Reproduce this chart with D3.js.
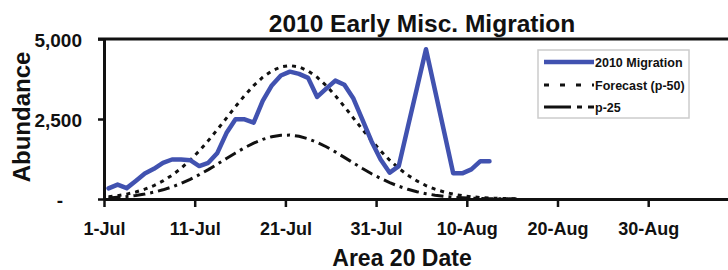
<!DOCTYPE html>
<html>
<head>
<meta charset="utf-8">
<script src="https://cdn.jsdelivr.net/npm/d3@7"></script>
<style>
  body { margin: 0; background: #fff; }
  text { font-family: "Liberation Sans", Arial, sans-serif; font-weight: bold; fill: #111; }
</style>
</head>
<body>
<div id="chart"></div>
<script>
// Day index 0 = 1-Jul
const tickDays = [0, 10, 20, 30, 40, 50, 60];
const tickLabels = ["1-Jul", "11-Jul", "21-Jul", "31-Jul", "10-Aug", "20-Aug", "30-Aug"];
const yTicks = [0, 2500, 5000];

// 2010 Migration, daily from 1-Jul
const migration2010 = [330, 450, 340, 565, 800, 945, 1130, 1234, 1234, 1213, 1030, 1130, 1440, 2060, 2490,
  2490, 2386, 3065, 3550, 3860, 3980, 3910, 3785, 3190, 3450, 3700, 3570, 3140, 2470, 1800, 1235, 823, 1028,
  2250, 3460, 4680, 3390, 2100, 802, 802, 925, 1182, 1182];

// Forecast (p-50), daily from 1-Jul
const forecastP50 = [70, 105, 153, 218, 306, 420, 564, 743, 959, 1213, 1503, 1825, 2171, 2529, 2889, 3231,
  3542, 3804, 4003, 4128, 4170, 4128, 4003, 3804, 3542, 3231, 2889, 2529, 2171, 1825, 1503, 1213, 959, 743,
  564, 420, 306, 218, 153, 105, 70, 46, 30, 19, 12, 7];

// p-25, daily from 1-Jul
const forecastP25 = [35, 53, 77, 111, 155, 213, 287, 377, 486, 614, 760, 919, 1090, 1265, 1439, 1602, 1745,
  1863, 1947, 1992, 1997, 1959, 1883, 1771, 1632, 1472, 1301, 1125, 953, 790, 642, 511, 398, 303, 227, 166,
  119, 83, 57, 38, 25, 16, 10, 6, 4, 2];

const W = 728, H = 270;
const margin = { top: 39, right: 0, bottom: 71, left: 104 };
const plotW = W - margin.left - margin.right,
      plotH = H - margin.top - margin.bottom;

const svg = d3.select("#chart").append("svg")
    .attr("width", W)
    .attr("height", H);

const g = svg.append("g")
    .attr("transform", "translate(" + margin.left + "," + margin.top + ")");

// one day is about 9.07px; points sit in the middle of their day
const x = d3.scaleLinear().domain([0, plotW / 9.07]).range([0, plotW]);
const y = d3.scaleLinear().domain([0, 5000]).range([plotH, 0]);

const line = d3.line()
    .x((d, i) => x(i + 0.5))
    .y(d => y(d));

// top border
g.append("line")
    .attr("x1", -6).attr("x2", plotW)
    .attr("y1", y(5000)).attr("y2", y(5000))
    .attr("stroke", "#111").attr("stroke-width", 3);

// series
g.append("path").datum(forecastP25)
    .attr("d", line)
    .attr("fill", "none")
    .attr("stroke", "#111")
    .attr("stroke-width", 3)
    .attr("stroke-dasharray", "12,5,3,5");

g.append("path").datum(forecastP50)
    .attr("d", line)
    .attr("fill", "none")
    .attr("stroke", "#111")
    .attr("stroke-width", 3)
    .attr("stroke-dasharray", "4,5");

g.append("path").datum(migration2010)
    .attr("d", line)
    .attr("fill", "none")
    .attr("stroke", "#4152b0")
    .attr("stroke-width", 4.5)
    .attr("stroke-linejoin", "round")
    .attr("stroke-linecap", "round");

// x axis
const xAxis = g.append("g")
    .attr("transform", "translate(0," + plotH + ")")
    .call(d3.axisBottom(x).tickValues(tickDays).tickFormat((d, i) => tickLabels[i])
        .tickSize(8).tickSizeOuter(0).tickPadding(15));
xAxis.select(".domain").attr("stroke", "#111").attr("stroke-width", 3);
xAxis.selectAll(".tick line").attr("stroke", "#111").attr("stroke-width", 2.5);
xAxis.selectAll("text").style("font-size", "18px").attr("fill", "#111");

// y axis
const yAxis = g.append("g")
    .call(d3.axisLeft(y).tickValues(yTicks).tickFormat(d => d === 0 ? "-" : d3.format(",")(d))
        .tickSize(6).tickSizeOuter(0).tickPadding(16));
yAxis.select(".domain").attr("stroke", "#111").attr("stroke-width", 3);
yAxis.selectAll(".tick line").attr("stroke", "#111").attr("stroke-width", 2.5);
yAxis.selectAll("text").style("font-size", "19px").attr("fill", "#111").attr("dy", "0.4em");
yAxis.selectAll(".tick").filter(d => d === 0).select("text").attr("x", -41);

// titles
svg.append("text")
    .attr("x", 422).attr("y", 32)
    .attr("text-anchor", "middle")
    .style("font-size", "24.5px")
    .text("2010 Early Misc. Migration");

svg.append("text")
    .attr("x", 402).attr("y", 266)
    .attr("text-anchor", "middle")
    .style("font-size", "23px")
    .text("Area 20 Date");

svg.append("text")
    .attr("transform", "translate(30,117) rotate(-90)")
    .attr("text-anchor", "middle")
    .style("font-size", "24px")
    .text("Abundance");

// legend
const legend = svg.append("g").attr("transform", "translate(538,50)");
legend.append("rect")
    .attr("width", 151).attr("height", 68)
    .attr("fill", "#fff").attr("stroke", "#ccc").attr("stroke-width", 1.5);

const legendItems = [
  { label: "2010 Migration", color: "#4152b0", width: 4.5, dash: null, y: 12 },
  { label: "Forecast (p-50)", color: "#111", width: 3, dash: "5,11", y: 35 },
  { label: "p-25", color: "#111", width: 3, dash: "27,6,5,6", y: 57 }
];
legendItems.forEach(it => {
  legend.append("line")
      .attr("x1", 6).attr("x2", 56)
      .attr("y1", it.y).attr("y2", it.y)
      .attr("stroke", it.color)
      .attr("stroke-width", it.width)
      .attr("stroke-dasharray", it.dash);
  legend.append("text")
      .attr("x", 57).attr("y", it.y)
      .attr("dy", "0.36em")
      .style("font-size", "12.5px")
      .text(it.label);
});
</script>
</body>
</html>
